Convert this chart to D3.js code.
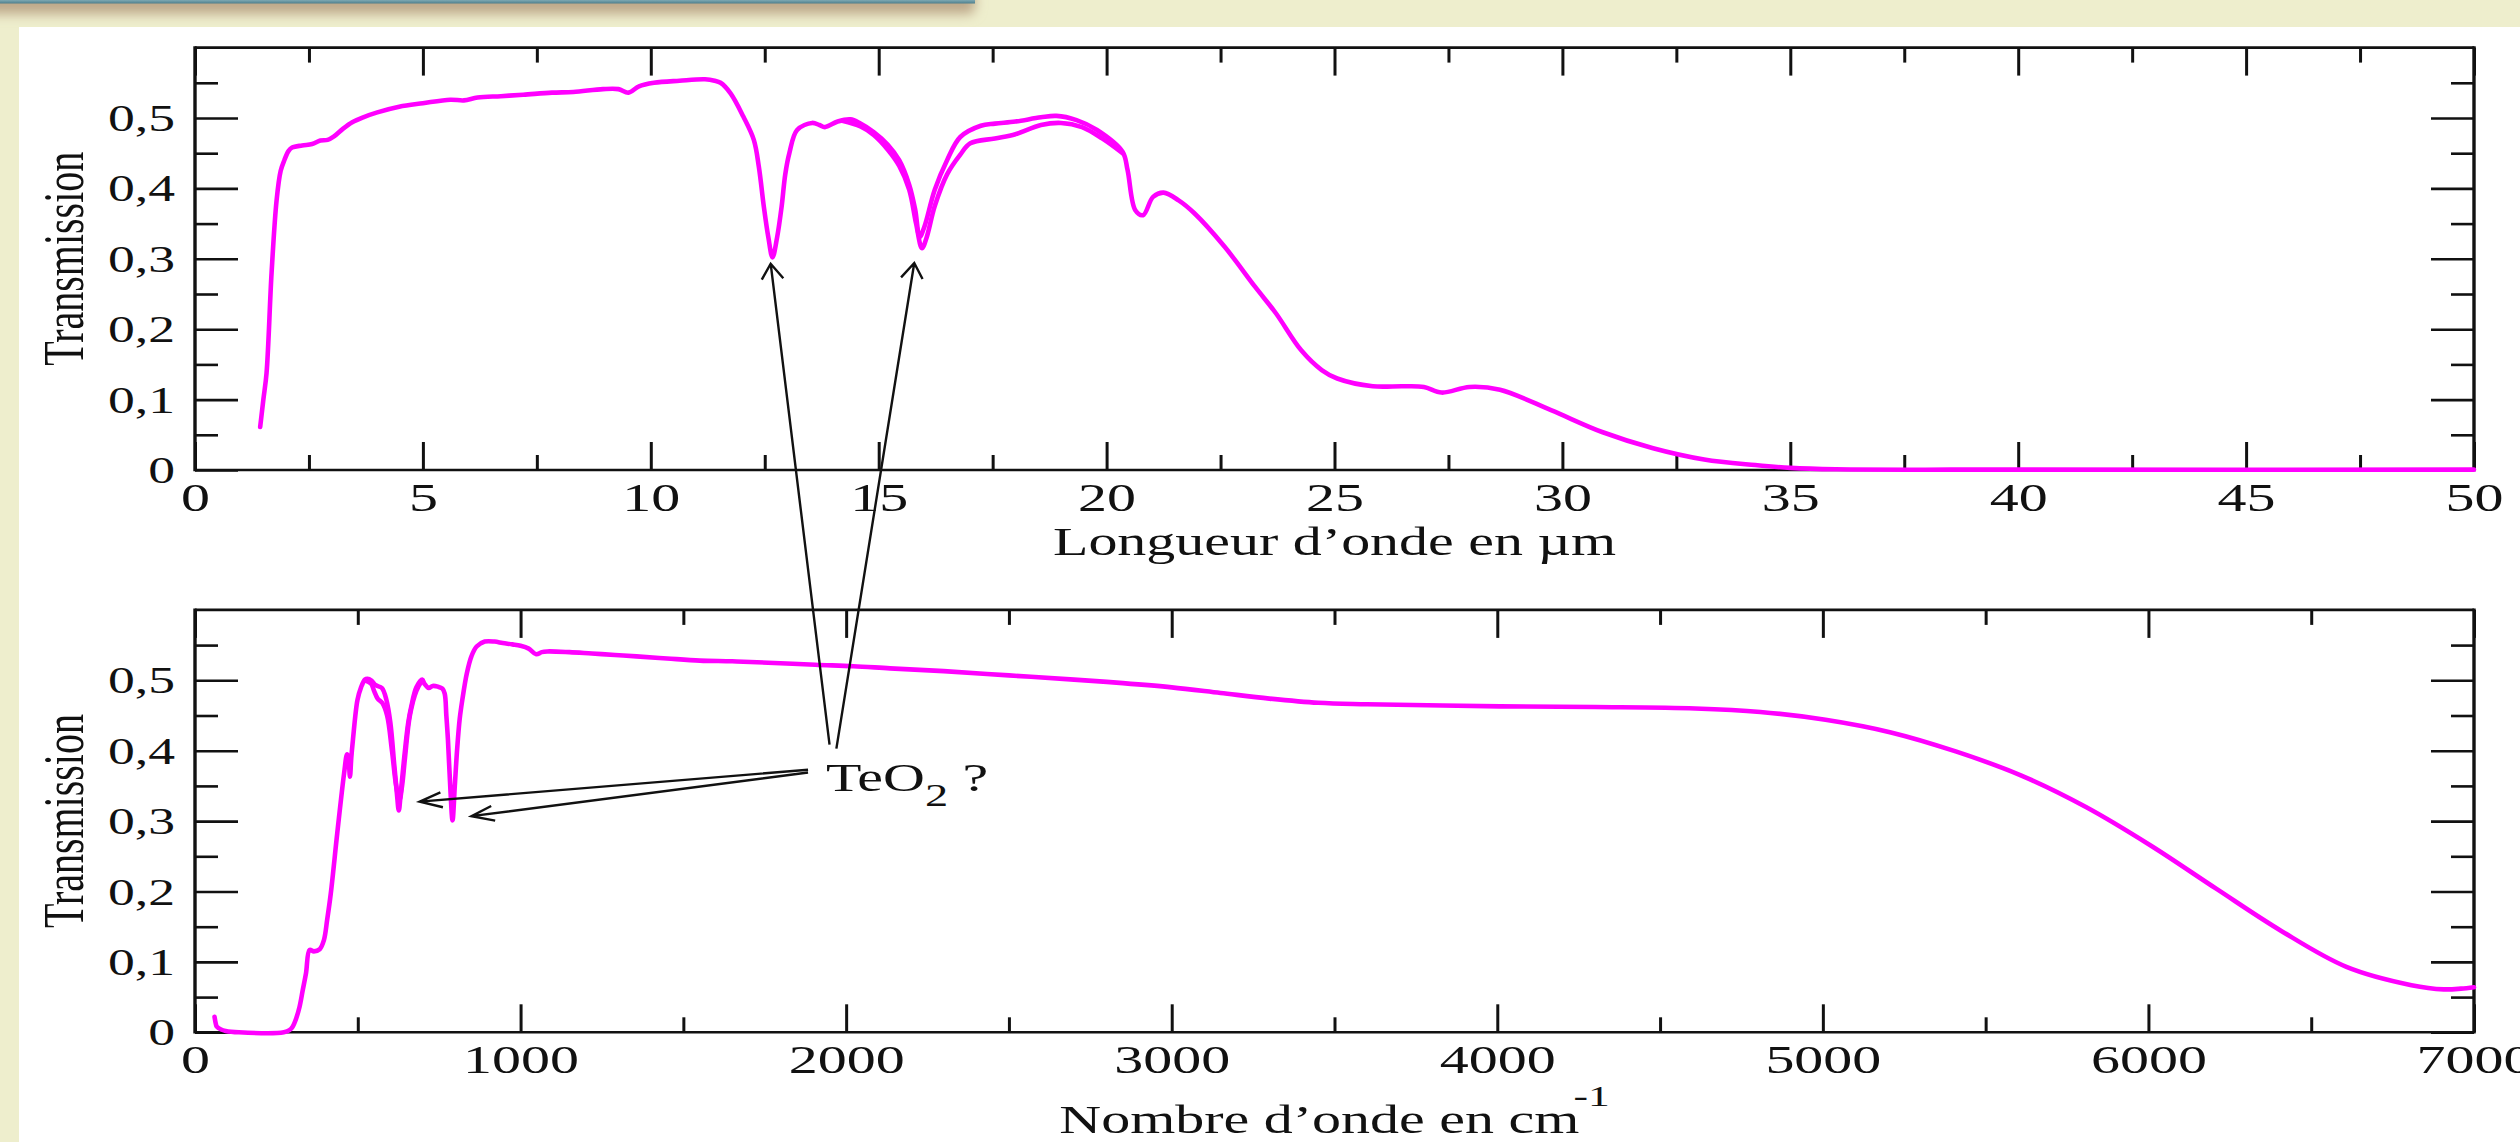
<!DOCTYPE html>
<html>
<head>
<meta charset="utf-8">
<script src="https://cdn.jsdelivr.net/npm/d3@7"></script>
<style>
  html, body { margin: 0; padding: 0; background: #eeeecd; overflow: hidden; }
  svg { display: block; }
</style>
</head>
<body>
<svg id="chart" width="2520" height="1142"></svg>
<script>
// ---------- data ----------
// Transmission vs wavelength (µm), first trace
const wavelengthTraceA = [
  [1.43,0.061],[1.50,0.10],[1.57,0.138],[1.68,0.28],[1.79,0.383],[1.88,0.425],[1.96,0.44],[2.05,0.453],
  [2.13,0.458],[2.35,0.461],[2.57,0.463],[2.75,0.468],[2.91,0.469],[3.05,0.474],[3.25,0.485],[3.45,0.494],
  [3.69,0.501],[4.0,0.508],[4.48,0.516],[5.0,0.521],[5.6,0.526],[5.9,0.525],[6.2,0.529],[6.71,0.531],
  [7.2,0.533],[7.83,0.536],[8.3,0.537],[8.95,0.541],[9.29,0.541],[9.51,0.536],[9.74,0.545],[10.07,0.55],
  [10.63,0.553],[11.19,0.555],[11.4,0.553],[11.53,0.55],[11.75,0.535],[12.03,0.502],[12.26,0.469],
  [12.37,0.431],[12.48,0.374],[12.58,0.33],[12.67,0.302],[12.77,0.33],[12.87,0.374],[12.95,0.42],
  [13.04,0.45],[13.21,0.483],[13.54,0.493],[13.7,0.49],[13.82,0.487],[14.1,0.495],[14.38,0.498],
  [14.6,0.492],[14.89,0.480],[15.2,0.462],[15.45,0.440],[15.67,0.405],[15.8,0.37],[15.9,0.331],
  [16.0,0.345],[16.23,0.398],[16.5,0.44],[16.79,0.473],[17.24,0.489],[17.55,0.492],[18.0,0.495],
  [18.56,0.501],[18.9,0.503],[19.34,0.497],[19.79,0.483],[20.35,0.452],[20.46,0.426],[20.63,0.369],
  [20.8,0.362],[21.02,0.388],[21.25,0.394],[21.58,0.383],[21.92,0.365],[22.59,0.317],[23.26,0.26],
  [23.71,0.223],[24.27,0.17],[24.72,0.142],[25.06,0.130],[25.84,0.119],[26.5,0.119],[26.96,0.118],
  [27.35,0.110],[27.96,0.118],[28.63,0.114],[29.75,0.085],[30.87,0.054],[31.99,0.031],[33.11,0.015],
  [34.23,0.007],[35.0,0.003],[36.0,0.001],[40.0,0.0005],[50.0,0.0005]
];
// second trace, where it separates from the first one
const wavelengthTraceB = [
  [14.2,0.496],[14.6,0.488],[14.89,0.476],[15.2,0.455],[15.45,0.432],[15.67,0.398],[15.82,0.35],
  [15.95,0.315],[16.05,0.33],[16.23,0.375],[16.5,0.42],[16.79,0.448],[17.01,0.464],[17.55,0.471],
  [18.0,0.477],[18.56,0.49],[19.0,0.493],[19.46,0.487],[19.9,0.471],[20.35,0.45]
];

// Transmission vs wavenumber (cm-1), first trace
const wavenumberTraceA = [
  [60,0.022],[64,0.012],[67,0.008],[80,0.004],[94,0.002],[135,0.0],[273,0.0],[290,0.003],[300,0.008],
  [311,0.02],[321,0.036],[331,0.06],[341,0.084],[352,0.117],[365,0.115],[383,0.118],[396,0.131],
  [406,0.16],[417,0.197],[437,0.283],[458,0.368],[467,0.395],[471,0.39],[476,0.363],[480,0.39],
  [485,0.415],[499,0.472],[510,0.49],[522,0.501],[530,0.502],[541,0.50],[555,0.493],[574,0.489],
  [588,0.472],[600,0.44],[612,0.38],[620,0.34],[626,0.315],[632,0.34],[643,0.392],[655,0.44],
  [664,0.462],[680,0.49],[698,0.501],[705,0.495],[718,0.489],[730,0.492],[746,0.491],[760,0.488],
  [767,0.481],[772,0.45],[777,0.415],[785,0.34],[791,0.301],[798,0.35],[805,0.401],[813,0.445],
  [821,0.472],[835,0.51],[849,0.534],[865,0.548],[890,0.555],[920,0.555],[945,0.553],[975,0.551],
  [1000,0.549],[1025,0.545],[1048,0.537],[1065,0.54],[1082,0.541],[1150,0.54],[1219,0.538],
  [1290,0.536],[1356,0.534],[1450,0.531],[1551,0.528],[1650,0.527],[1760,0.525],[1905,0.522],
  [2022,0.52],[2135,0.517],[2300,0.513],[2500,0.507],[2700,0.501],[2850,0.496],[3000,0.490],
  [3150,0.482],[3300,0.474],[3450,0.468],[3600,0.466],[4009,0.463],[4300,0.462],[4608,0.46],
  [4808,0.455],[5008,0.444],[5209,0.426],[5408,0.399],[5608,0.365],[5808,0.32],[6008,0.265],
  [6208,0.204],[6408,0.144],[6608,0.093],[6808,0.067],[6907,0.061],[6960,0.062],[7000,0.064]
];
// second trace around the 630 cm-1 band
const wavenumberTraceB = [
  [522,0.50],[541,0.495],[550,0.485],[561,0.474],[575,0.468],[590,0.45],[605,0.40],[618,0.35],
  [628,0.33],[636,0.35],[645,0.39],[660,0.45],[680,0.485],[698,0.50]
];

// ---------- ticks ----------
const wavelengthTicks = [0,5,10,15,20,25,30,35,40,45,50];
const wavelengthMinor = [2.5,7.5,12.5,17.5,22.5,27.5,32.5,37.5,42.5,47.5];
const wavenumberTicks = [0,1000,2000,3000,4000,5000,6000,7000];
const wavenumberMinor = [500,1500,2500,3500,4500,5500,6500];
const transmissionTicks = [0,0.1,0.2,0.3,0.4,0.5];
const transmissionMinor = [0.05,0.15,0.25,0.35,0.45,0.55];

// ---------- annotations (in data units of the panel named) ----------
const bandLabel = { text: "TeO", sub: "2", tail: " ?", panel: "bottom", x: 1938, y: 0.343 };
const bandArrows = [
  { from: ["bottom",1949,0.4085], to: ["top",12.63,0.293] },
  { from: ["bottom",1970,0.403],  to: ["top",15.78,0.294] },
  { from: ["bottom",1883,0.373],  to: ["bottom",690,0.3276] },
  { from: ["bottom",1883,0.369],  to: ["bottom",849,0.307] }
];

// ---------- drawing ----------
const W = 2520, H = 1142;
const SX = 1.45;                    // lettering is drawn wide
const FONT = '"Liberation Serif","Times New Roman",Times,serif';
const INK = "#111";
const CURVE = "#ff00ff";

const svg = d3.select("#chart");
const defs = svg.append("defs");
defs.append("filter").attr("id","soft").attr("x","-20%").attr("y","-200%").attr("width","140%").attr("height","500%")
  .append("feGaussianBlur").attr("stdDeviation", 6);
const teal = defs.append("linearGradient").attr("id","teal").attr("x1",0).attr("y1",0).attr("x2",0).attr("y2",1);
teal.append("stop").attr("offset","0%").attr("stop-color","#7fa9b3");
teal.append("stop").attr("offset","100%").attr("stop-color","#4d7e8c");

// page background and header strip
svg.append("rect").attr("width", W).attr("height", H).attr("fill", "#eeeecd");
svg.append("rect").attr("x", -30).attr("y", -12).attr("width", 1005).attr("height", 26)
  .attr("rx", 6).attr("fill", "#bea88a").attr("filter", "url(#soft)");
svg.append("rect").attr("x", 0).attr("y", 0).attr("width", 975).attr("height", 3.5).attr("fill", "url(#teal)");
svg.append("rect").attr("x", 19).attr("y", 27).attr("width", W - 19).attr("height", H - 27).attr("fill", "#ffffff");

const X0 = 195, X1 = 2474;
const panels = {
  top:    { xDomain: [0, 50],   top: 47.6, bottom: 470,    xMajor: wavelengthTicks, xMinor: wavelengthMinor,
            fmt: d3.format("d"), traces: [wavelengthTraceA, wavelengthTraceB] },
  bottom: { xDomain: [0, 7000], top: 609.9, bottom: 1032.3, xMajor: wavenumberTicks, xMinor: wavenumberMinor,
            fmt: d3.format("d"), traces: [wavenumberTraceA, wavenumberTraceB] }
};
Object.values(panels).forEach(p => {
  p.x = d3.scaleLinear().domain(p.xDomain).range([X0, X1]);
  p.y = d3.scaleLinear().domain([0, 0.6]).range([p.bottom, p.top]);
});

const yFmt = d => d === 0 ? "0" : d3.format(".1f")(d).replace(".", ",");

function styleTicks(sel, width) {
  sel.select(".domain").remove();
  sel.selectAll(".tick line").attr("stroke", INK).attr("stroke-width", width);
}

function drawPanel(p) {
  const g = svg.append("g");

  // x axis below, major with labels
  const xb = g.append("g").attr("transform", `translate(0,${p.bottom})`)
    .call(d3.axisBottom(p.x).tickValues(p.xMajor).tickSizeInner(-28).tickSizeOuter(0).tickFormat(p.fmt));
  styleTicks(xb, 3);
  xb.selectAll(".tick text").attr("y", 41).attr("dy", null)
    .attr("transform", `scale(${SX},1)`).attr("font-family", FONT).attr("font-size", 40).attr("fill", INK);
  const xbm = g.append("g").attr("transform", `translate(0,${p.bottom})`)
    .call(d3.axisBottom(p.x).tickValues(p.xMinor).tickSizeInner(-15).tickSizeOuter(0).tickFormat(() => ""));
  styleTicks(xbm, 3);

  // mirrored x ticks on top
  const xt = g.append("g").attr("transform", `translate(0,${p.top})`)
    .call(d3.axisTop(p.x).tickValues(p.xMajor).tickSizeInner(-28).tickSizeOuter(0).tickFormat(() => ""));
  styleTicks(xt, 3);
  const xtm = g.append("g").attr("transform", `translate(0,${p.top})`)
    .call(d3.axisTop(p.x).tickValues(p.xMinor).tickSizeInner(-15).tickSizeOuter(0).tickFormat(() => ""));
  styleTicks(xtm, 3);

  // y axis left with labels
  const yl = g.append("g").attr("transform", `translate(${X0},0)`)
    .call(d3.axisLeft(p.y).tickValues(transmissionTicks).tickSizeInner(-43).tickSizeOuter(0).tickFormat(yFmt));
  styleTicks(yl, 2.6);
  yl.selectAll(".tick text").attr("x", 0).attr("dy", "0.34em").attr("text-anchor", "end")
    .attr("transform", `translate(-20,0) scale(${SX},1)`).attr("font-family", FONT).attr("font-size", 37).attr("fill", INK);
  const ylm = g.append("g").attr("transform", `translate(${X0},0)`)
    .call(d3.axisLeft(p.y).tickValues(transmissionMinor).tickSizeInner(-23).tickSizeOuter(0).tickFormat(() => ""));
  styleTicks(ylm, 2.6);

  // mirrored y ticks on the right
  const yr = g.append("g").attr("transform", `translate(${X1},0)`)
    .call(d3.axisRight(p.y).tickValues(transmissionTicks).tickSizeInner(-43).tickSizeOuter(0).tickFormat(() => ""));
  styleTicks(yr, 2.6);
  const yrm = g.append("g").attr("transform", `translate(${X1},0)`)
    .call(d3.axisRight(p.y).tickValues(transmissionMinor).tickSizeInner(-23).tickSizeOuter(0).tickFormat(() => ""));
  styleTicks(yrm, 2.6);

  // frame
  g.append("line").attr("x1", X0).attr("x2", X1).attr("y1", p.top).attr("y2", p.top).attr("stroke", INK).attr("stroke-width", 2.6);
  g.append("line").attr("x1", X0).attr("x2", X1).attr("y1", p.bottom).attr("y2", p.bottom).attr("stroke", INK).attr("stroke-width", 2.6);
  g.append("line").attr("x1", X0).attr("x2", X0).attr("y1", p.top - 1.3).attr("y2", p.bottom + 1.3).attr("stroke", INK).attr("stroke-width", 3.4);
  g.append("line").attr("x1", X1).attr("x2", X1).attr("y1", p.top - 1.3).attr("y2", p.bottom + 1.3).attr("stroke", INK).attr("stroke-width", 3.4);

  // y title
  g.append("text").attr("transform", `translate(83,${(p.top + p.bottom) / 2}) scale(${SX},1) rotate(-90)`)
    .attr("text-anchor", "middle").attr("font-family", FONT).attr("font-size", 40).attr("fill", INK)
    .text("Transmission");

  // spectra
  const line = d3.line().x(d => p.x(d[0])).y(d => p.y(d[1])).curve(d3.curveCatmullRom.alpha(0.5));
  p.traces.forEach(t => {
    g.append("path").attr("d", line(t)).attr("fill", "none").attr("stroke", CURVE)
      .attr("stroke-width", 4.6).attr("stroke-linejoin", "round").attr("stroke-linecap", "round");
  });
}

drawPanel(panels.top);
drawPanel(panels.bottom);

// x titles
svg.append("text").attr("transform", `translate(${(X0 + X1) / 2},555) scale(${SX},1)`)
  .attr("text-anchor", "middle").attr("font-family", FONT).attr("font-size", 40).attr("fill", INK)
  .text("Longueur d\u2019onde en \u00b5m");
const t2 = svg.append("text").attr("transform", `translate(${(X0 + X1) / 2},1133) scale(${SX},1)`)
  .attr("text-anchor", "middle").attr("font-family", FONT).attr("font-size", 40).attr("fill", INK);
t2.append("tspan").text("Nombre d\u2019onde en cm");
t2.append("tspan").attr("dy", -27).attr("dx", -4).attr("font-size", 30).text("-1");

// band annotation
const ann = svg.append("g");
{
  const p = panels[bandLabel.panel];
  const lbl = ann.append("text")
    .attr("transform", `translate(${p.x(bandLabel.x)},${p.y(bandLabel.y)}) scale(${SX},1)`)
    .attr("font-family", FONT).attr("font-size", 40).attr("fill", INK);
  lbl.append("tspan").text(bandLabel.text);
  lbl.append("tspan").attr("dy", 15).attr("font-size", 32).text(bandLabel.sub);
  lbl.append("tspan").attr("dy", -15).text(bandLabel.tail);
}
const pt = ([name, vx, vy]) => [panels[name].x(vx), panels[name].y(vy)];
bandArrows.forEach(a => {
  const [x1, y1] = pt(a.from), [x2, y2] = pt(a.to);
  const ux = (x1 - x2) / SX, uy = y1 - y2, len = Math.hypot(ux, uy);
  const nx = ux / len, ny = uy / len;
  const ang = 26 * Math.PI / 180, L = 17;
  const barb = s => {
    const c = Math.cos(s * ang), si = Math.sin(s * ang);
    return [x2 + (nx * c - ny * si) * L * SX, y2 + (nx * si + ny * c) * L];
  };
  const b1 = barb(1), b2 = barb(-1);
  ann.append("path")
    .attr("d", `M${x1},${y1}L${x2},${y2}M${b1[0]},${b1[1]}L${x2},${y2}L${b2[0]},${b2[1]}`)
    .attr("fill", "none").attr("stroke", INK).attr("stroke-width", 2.4);
});
</script>
</body>
</html>
